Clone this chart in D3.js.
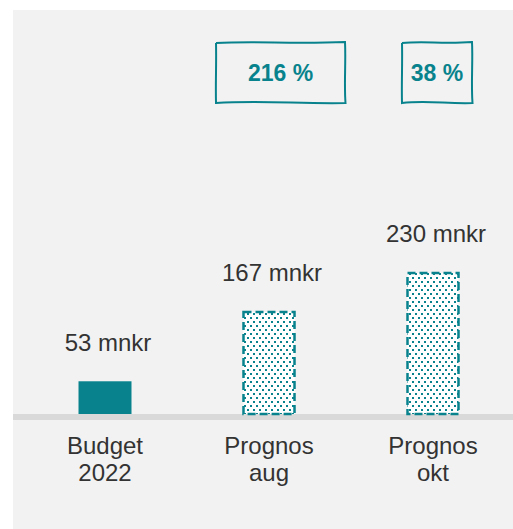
<!DOCTYPE html>
<html>
<head>
<meta charset="utf-8">
<script src="https://cdn.jsdelivr.net/npm/d3@7"></script>
<style>
  html, body { margin: 0; padding: 0; background: #ffffff; }
  svg { display: block; }
  text { font-family: "Liberation Sans", Arial, sans-serif; }
</style>
</head>
<body>
<svg id="chart" width="513" height="529"></svg>
<script>
const categories = [["Budget", "2022"], ["Prognos", "aug"], ["Prognos", "okt"]];
const values = [53, 167, 230];
const valueLabels = ["53 mnkr", "167 mnkr", "230 mnkr"];
const isForecast = [false, true, true];
const changeLabels = [null, "216 %", "38 %"];

const teal = "#08838d";
const svg = d3.select("#chart");

// background panel
svg.append("rect").attr("x", 13).attr("y", 10).attr("width", 500).attr("height", 519).attr("fill", "#f2f2f2");

// pattern
const defs = svg.append("defs");
const pat = defs.append("pattern").attr("id", "dots").attr("patternUnits", "userSpaceOnUse")
  .attr("width", 6).attr("height", 8);
pat.append("rect").attr("width", 6).attr("height", 8).attr("fill", "#ffffff");
pat.append("rect").attr("x", 1).attr("y", 1).attr("width", 2).attr("height", 2).attr("fill", teal);
pat.append("rect").attr("x", 4).attr("y", 5).attr("width", 2).attr("height", 2).attr("fill", teal);

const keys = categories.map(c => c.join(" "));
const x = d3.scalePoint().domain(keys).range([105, 433]);
const y = d3.scaleLinear().domain([0, 230]).range([414, 272]);
const bw = 53;

// axis line
svg.append("rect").attr("x", 13).attr("y", y(0)).attr("width", 500).attr("height", 6).attr("fill", "#d9d9d9");

const data = keys.map((k, i) => ({ k, v: values[i], f: isForecast[i], lab: valueLabels[i], cat: categories[i], ch: changeLabels[i] }));

svg.selectAll("rect.bar").data(data).enter().append("rect")
  .attr("class", "bar")
  .attr("x", d => x(d.k) - bw / 2 + (d.f ? 1 : 0))
  .attr("y", d => y(d.v) + (d.f ? 1 : 0))
  .attr("width", d => bw - (d.f ? 2 : 0))
  .attr("height", d => y(0) - y(d.v) - (d.f ? 1 : 0))
  .attr("fill", d => d.f ? "url(#dots)" : teal)
  .attr("stroke", d => d.f ? teal : "none")
  .attr("stroke-width", 2.5)
  .attr("stroke-dasharray", "8,4");

// value labels
svg.selectAll("text.val").data(data).enter().append("text")
  .attr("class", "val")
  .attr("x", d => x(d.k) + 3)
  .attr("y", d => y(d.v) - 30)
  .attr("text-anchor", "middle")
  .attr("font-size", 24)
  .attr("fill", "#333333")
  .text(d => d.lab);

// category labels
const cat = svg.selectAll("text.cat").data(data).enter().append("text")
  .attr("class", "cat")
  .attr("text-anchor", "middle")
  .attr("font-size", 24)
  .attr("fill", "#333333");
cat.append("tspan").attr("x", d => x(d.k)).attr("y", 454).text(d => d.cat[0]);
cat.append("tspan").attr("x", d => x(d.k)).attr("y", 481).text(d => d.cat[1]);

// change boxes (hand-drawn look)
const boxes = [
  { x0: 216, x1: 345, y0: 42, y1: 103 },
  { x0: 402, x1: 472, y0: 42, y1: 103 }
];
const chData = data.filter(d => d.ch);
chData.forEach((d, i) => {
  const b = boxes[i];
  const w = b.x1 - b.x0;
  const p = d3.path();
  p.moveTo(b.x0, b.y0 + 1);
  p.bezierCurveTo(b.x0 + w * 0.3, b.y0 - 1, b.x0 + w * 0.6, b.y0 + 2, b.x1, b.y0);
  p.bezierCurveTo(b.x1 + 1, b.y0 + 20, b.x1 - 1, b.y1 - 20, b.x1 + 0.5, b.y1);
  p.bezierCurveTo(b.x0 + w * 0.65, b.y1 + 1, b.x0 + w * 0.35, b.y1 - 3, b.x0, b.y1);
  p.bezierCurveTo(b.x0 - 0.5, b.y1 - 20, b.x0 + 0.5, b.y0 + 20, b.x0, b.y0 + 1);
  svg.append("path").attr("d", p.toString()).attr("fill", "none")
    .attr("stroke", teal).attr("stroke-width", 2);
  svg.append("text").attr("x", (b.x0 + b.x1) / 2).attr("y", (b.y0 + b.y1) / 2 + 8)
    .attr("text-anchor", "middle").attr("font-size", 23).attr("font-weight", "bold")
    .attr("fill", teal).text(d.ch);
});
</script>
</body>
</html>
